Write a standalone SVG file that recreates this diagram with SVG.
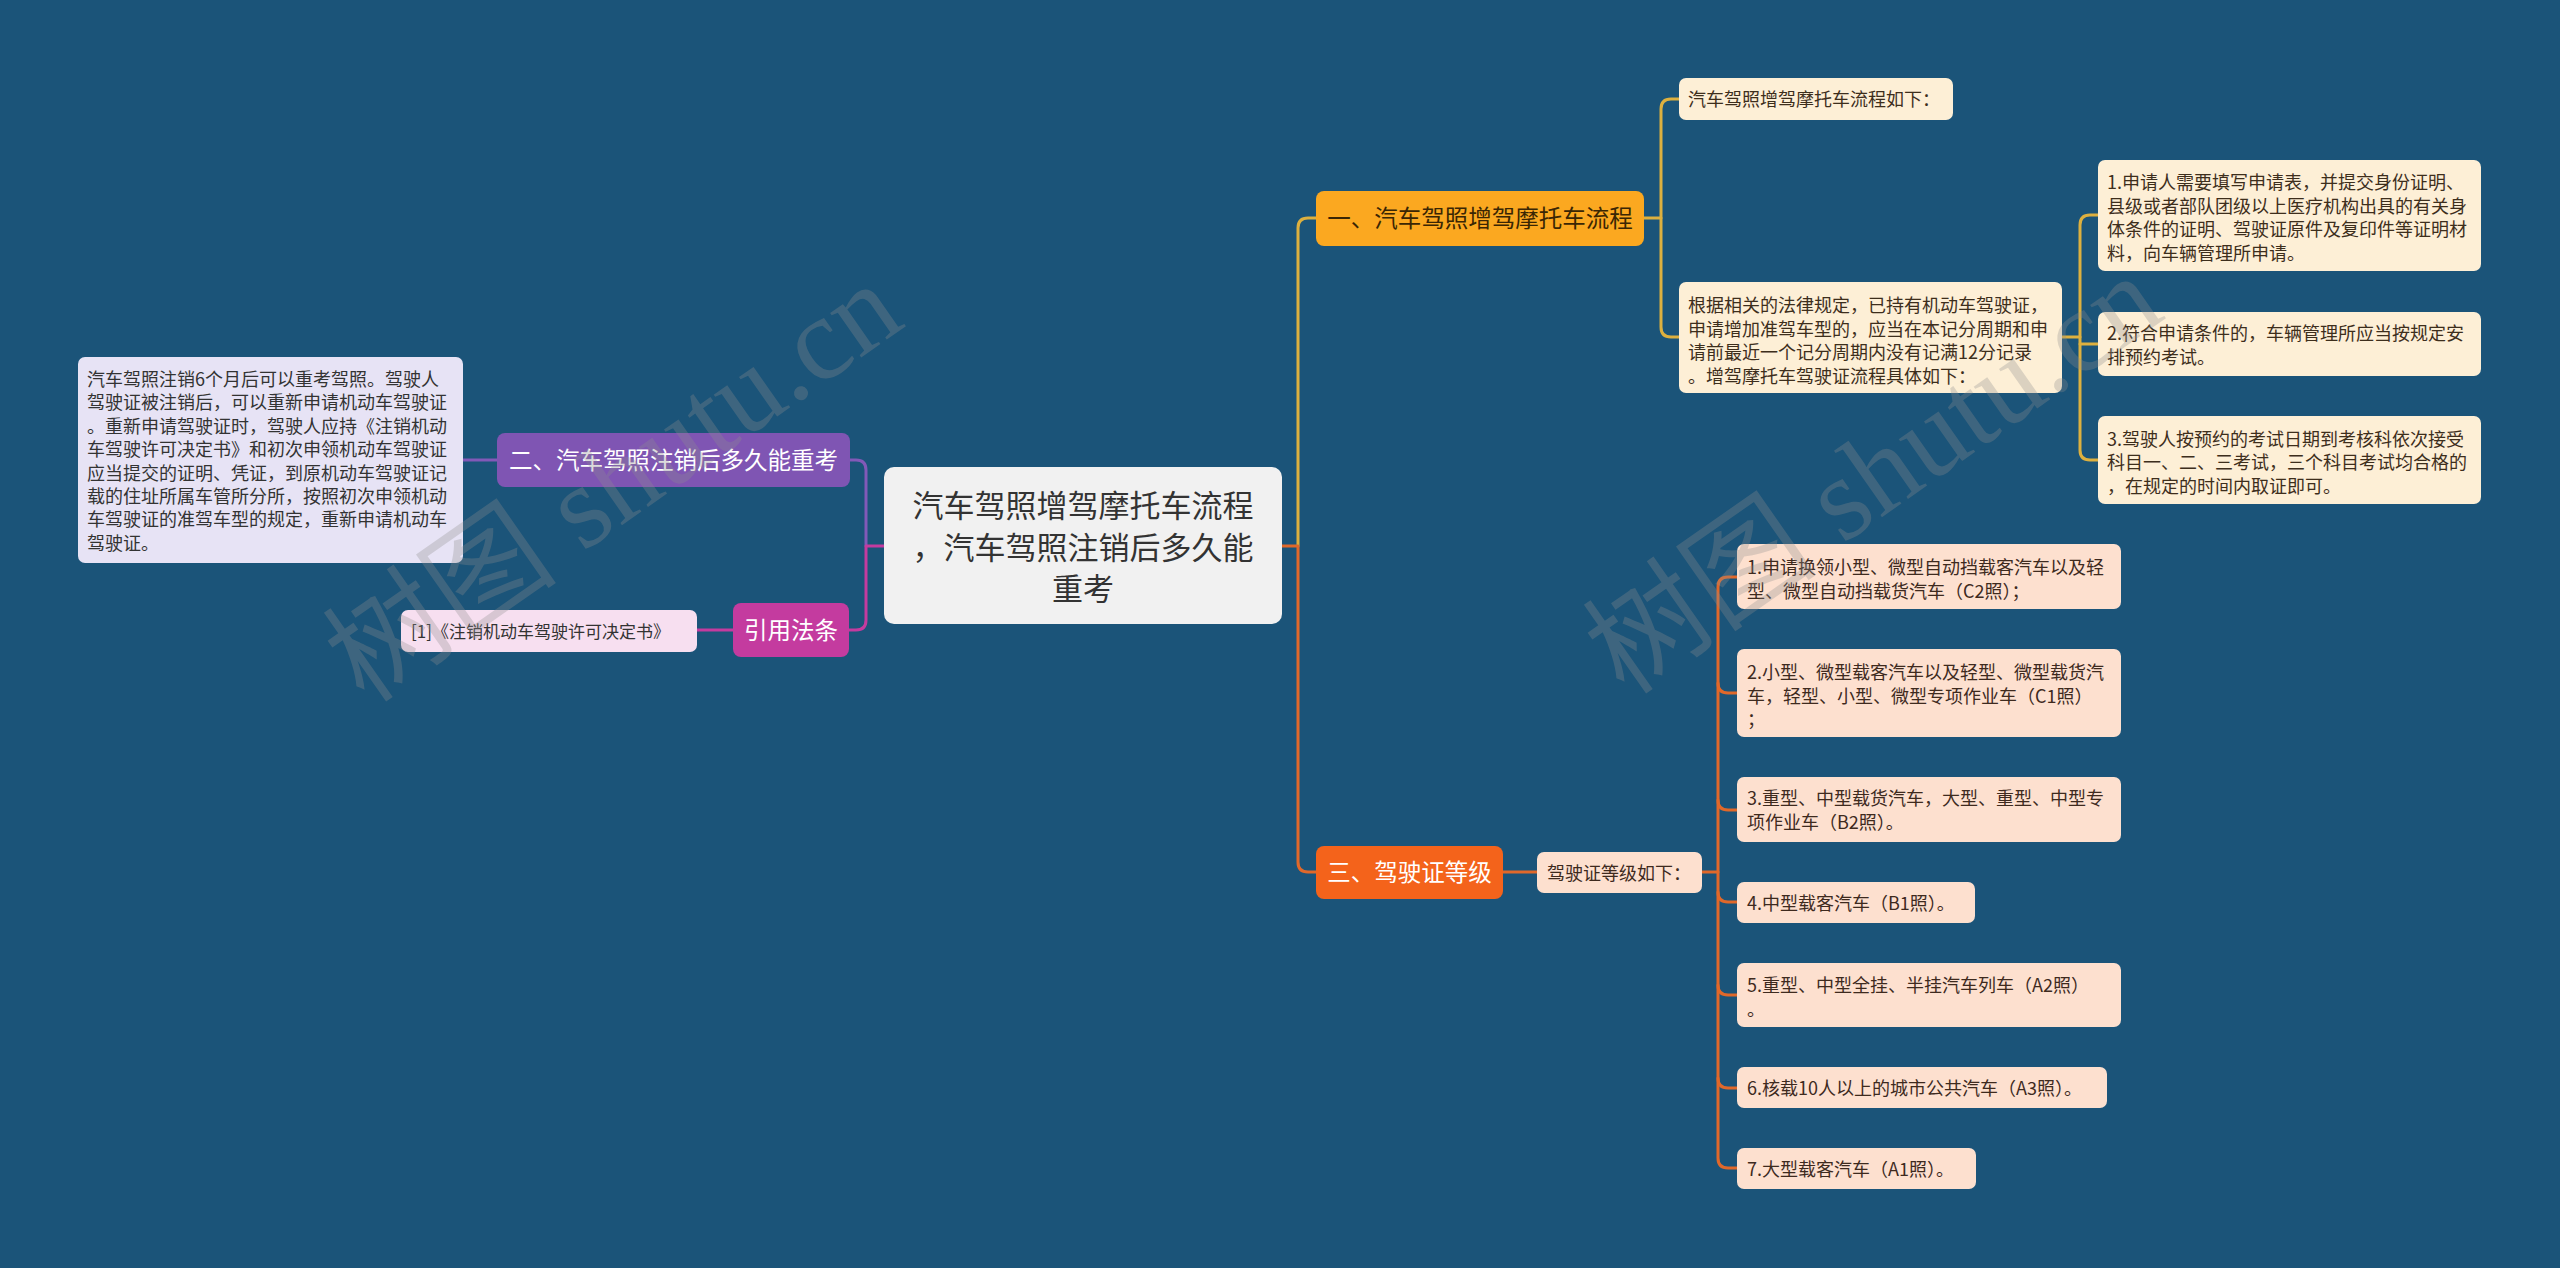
<svg xmlns="http://www.w3.org/2000/svg" width="2560" height="1268" viewBox="0 0 2560 1268">
<style>
text{font-family:"Noto Sans CJK SC","Noto Sans",sans-serif}
.s{font-size:18px}
.big{font-size:23.5px}
.wm{font-family:"Liberation Serif","Noto Sans CJK SC",serif;font-size:118px;fill:#8f8f8f;opacity:0.3}
.ln{fill:none;stroke-width:3;stroke-linecap:round;stroke-linejoin:round}
.gold{stroke:#ddb03f}
.org{stroke:#e0682a}
.pur{stroke:#8259b8}
.mag{stroke:#c43b9f}
.cream{fill:#fdefd6}
.peach{fill:#fde0cf}
.tc{fill:#3d2e1c}
.tp{fill:#3e2a1e}
</style>
<rect width="2560" height="1268" fill="#1b5479"/>

<g id="connectors">
  <path class="ln pur" d="M866,546 V470 Q866,460 856,460 H850"/>
  <path class="ln mag" d="M884,546 H866 V620 Q866,630 856,630 H849"/>
  <path class="ln pur" d="M497,460 H463"/>
  <path class="ln mag" d="M733,630 H697"/>
  <path class="ln gold" d="M1298,546 V228 Q1298,218 1308,218 H1316"/>
  <path class="ln org" d="M1282,546 H1298 V862 Q1298,872 1308,872 H1316"/>
  <path class="ln gold" d="M1644,218 H1661"/>
  <path class="ln gold" d="M1679,99 H1671 Q1661,99 1661,109 V327 Q1661,337 1671,337 H1679"/>
  <path class="ln gold" d="M2062,337 H2080"/>
  <path class="ln gold" d="M2098,215 H2090 Q2080,215 2080,225 V450 Q2080,460 2090,460 H2098"/>
  <path class="ln gold" d="M2080,344 H2098"/>
  <path class="ln org" d="M1503,872 H1537"/>
  <path class="ln org" d="M1702,872 H1718"/>
  <path class="ln org" d="M1737,577 H1728 Q1718,577 1718,587 V1158 Q1718,1168 1728,1168 H1737"/>
  <path class="ln org" d="M1718,683 Q1718,693 1728,693 H1737"/>
  <path class="ln org" d="M1718,800 Q1718,810 1728,810 H1737"/>
  <path class="ln org" d="M1718,892 Q1718,902 1728,902 H1737"/>
  <path class="ln org" d="M1718,985 Q1718,995 1728,995 H1737"/>
  <path class="ln org" d="M1718,1078 Q1718,1088 1728,1088 H1737"/>
</g>

<g id="center">
  <rect x="884" y="467" width="398" height="157" rx="10" fill="#f1f1f1"/>
  <text x="1083" y="517" text-anchor="middle" font-size="31" fill="#333">汽车驾照增驾摩托车流程</text>
  <text x="1083" y="559" text-anchor="middle" font-size="31" fill="#333">，汽车驾照注销后多久能</text>
  <text x="1083" y="600" text-anchor="middle" font-size="31" fill="#333">重考</text>
</g>

<g id="n1">
  <rect x="1316" y="191" width="328" height="55" rx="8" fill="#fba820"/>
  <text class="big" x="1480" y="227" text-anchor="middle" fill="#3a2604">一、汽车驾照增驾摩托车流程</text>
</g>
<g id="n1a">
  <rect class="cream" x="1679" y="78" width="274" height="42" rx="7"/>
  <text class="s tc" x="1688" y="106">汽车驾照增驾摩托车流程如下：</text>
</g>
<g id="n1b">
  <rect class="cream" x="1679" y="282" width="383" height="111" rx="7"/>
  <text class="s tc" x="1688" y="312">根据相关的法律规定，已持有机动车驾驶证，<tspan x="1688" dy="23.5">申请增加准驾车型的，应当在本记分周期和申</tspan><tspan x="1688" dy="23.5">请前最近一个记分周期内没有记满12分记录</tspan><tspan x="1688" dy="23.5">。增驾摩托车驾驶证流程具体如下：</tspan></text>
</g>
<g id="n1b1">
  <rect class="cream" x="2098" y="160" width="383" height="111" rx="7"/>
  <text class="s tc" x="2107" y="189">1.申请人需要填写申请表，并提交身份证明、<tspan x="2107" dy="23.5">县级或者部队团级以上医疗机构出具的有关身</tspan><tspan x="2107" dy="23.5">体条件的证明、驾驶证原件及复印件等证明材</tspan><tspan x="2107" dy="23.5">料，向车辆管理所申请。</tspan></text>
</g>
<g id="n1b2">
  <rect class="cream" x="2098" y="312" width="383" height="64" rx="7"/>
  <text class="s tc" x="2107" y="340">2.符合申请条件的，车辆管理所应当按规定安<tspan x="2107" dy="23.5">排预约考试。</tspan></text>
</g>
<g id="n1b3">
  <rect class="cream" x="2098" y="416" width="383" height="88" rx="7"/>
  <text class="s tc" x="2107" y="445.5">3.驾驶人按预约的考试日期到考核科依次接受<tspan x="2107" dy="23.5">科目一、二、三考试，三个科目考试均合格的</tspan><tspan x="2107" dy="23.5">，在规定的时间内取证即可。</tspan></text>
</g>

<g id="n3">
  <rect x="1316" y="846" width="187" height="53" rx="8" fill="#f4631b"/>
  <text class="big" x="1409.5" y="881" text-anchor="middle" fill="#ffffff">三、驾驶证等级</text>
</g>
<g id="n3a">
  <rect class="peach" x="1537" y="852" width="165" height="41" rx="7"/>
  <text class="s tp" x="1547" y="879.5">驾驶证等级如下：</text>
</g>
<g id="n3a1">
  <rect class="peach" x="1737" y="544" width="384" height="65" rx="7"/>
  <text class="s tp" x="1747" y="574">1.申请换领小型、微型自动挡载客汽车以及轻<tspan x="1747" dy="23.5">型、微型自动挡载货汽车（C2照）；</tspan></text>
</g>
<g id="n3a2">
  <rect class="peach" x="1737" y="649" width="384" height="88" rx="7"/>
  <text class="s tp" x="1747" y="679">2.小型、微型载客汽车以及轻型、微型载货汽<tspan x="1747" dy="23.5">车，轻型、小型、微型专项作业车（C1照）</tspan><tspan x="1747" dy="23.5">；</tspan></text>
</g>
<g id="n3a3">
  <rect class="peach" x="1737" y="777" width="384" height="65" rx="7"/>
  <text class="s tp" x="1747" y="805">3.重型、中型载货汽车，大型、重型、中型专<tspan x="1747" dy="23.5">项作业车（B2照）。</tspan></text>
</g>
<g id="n3a4">
  <rect class="peach" x="1737" y="882" width="238" height="41" rx="7"/>
  <text class="s tp" x="1747" y="909.5">4.中型载客汽车（B1照）。</text>
</g>
<g id="n3a5">
  <rect class="peach" x="1737" y="963" width="384" height="64" rx="7"/>
  <text class="s tp" x="1747" y="992">5.重型、中型全挂、半挂汽车列车（A2照）<tspan x="1747" dy="23.5">。</tspan></text>
</g>
<g id="n3a6">
  <rect class="peach" x="1737" y="1067" width="370" height="41" rx="7"/>
  <text class="s tp" x="1747" y="1094.5">6.核载10人以上的城市公共汽车（A3照）。</text>
</g>
<g id="n3a7">
  <rect class="peach" x="1737" y="1148" width="239" height="41" rx="7"/>
  <text class="s tp" x="1747" y="1175.5">7.大型载客汽车（A1照）。</text>
</g>

<g id="n2">
  <rect x="497" y="433" width="353" height="54" rx="8" fill="#7f55b3"/>
  <text class="big" x="673.5" y="469" text-anchor="middle" fill="#ffffff">二、汽车驾照注销后多久能重考</text>
</g>
<g id="n2a">
  <rect x="78" y="357" width="385" height="206" rx="7" fill="#e7e3f5"/>
  <text class="s" x="87" y="386" fill="#333">汽车驾照注销6个月后可以重考驾照。驾驶人<tspan x="87" dy="23.4">驾驶证被注销后，可以重新申请机动车驾驶证</tspan><tspan x="87" dy="23.4">。重新申请驾驶证时，驾驶人应持《注销机动</tspan><tspan x="87" dy="23.4">车驾驶许可决定书》和初次申领机动车驾驶证</tspan><tspan x="87" dy="23.4">应当提交的证明、凭证，到原机动车驾驶证记</tspan><tspan x="87" dy="23.4">载的住址所属车管所分所，按照初次申领机动</tspan><tspan x="87" dy="23.4">车驾驶证的准驾车型的规定，重新申请机动车</tspan><tspan x="87" dy="23.4">驾驶证。</tspan></text>
</g>
<g id="nref">
  <rect x="733" y="603" width="116" height="54" rx="8" fill="#c43b9f"/>
  <text class="big" x="791" y="639" text-anchor="middle" fill="#ffffff">引用法条</text>
</g>
<g id="nref1">
  <rect x="401" y="610" width="296" height="42" rx="7" fill="#f7dff0"/>
  <text x="411" y="637.5" font-size="17" fill="#333">[1]《注销机动车驾驶许可决定书》</text>
</g>

<g id="watermark">
  <text class="wm" transform="rotate(-35 365 705)" x="365" y="705">树图 shutu.cn</text>
  <text class="wm" transform="rotate(-35 1625 697)" x="1625" y="697">树图 shutu.cn</text>
</g>
</svg>
